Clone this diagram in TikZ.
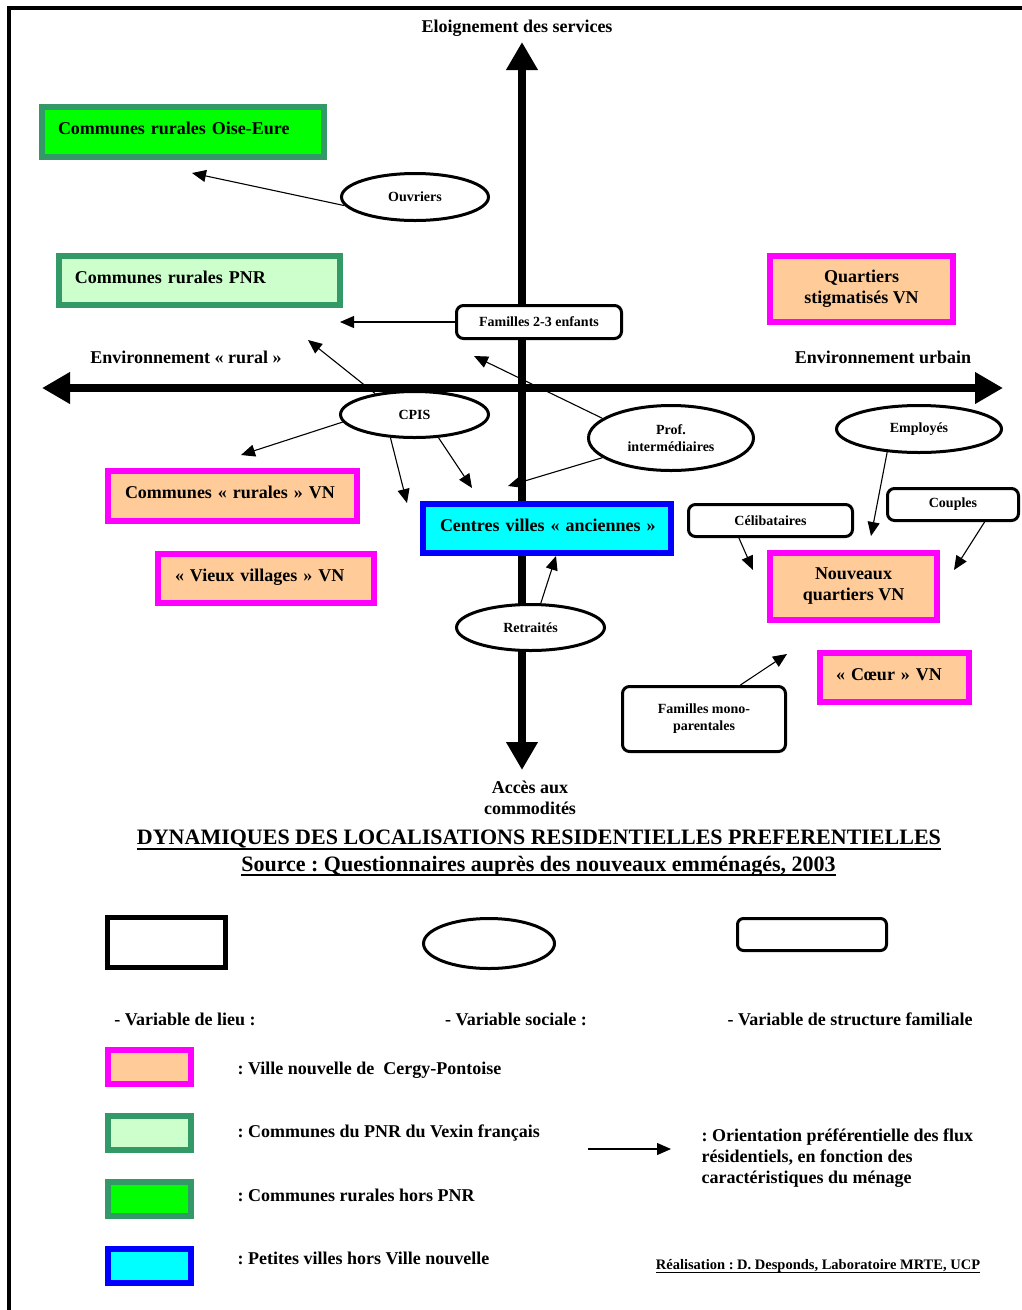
\documentclass[tikz,border=0pt]{standalone}
\usepackage{fontspec}
\setmainfont{Liberation Serif}
\usetikzlibrary{arrows.meta,shapes.geometric,positioning}
\frenchspacing

\definecolor{vnorange}{HTML}{FFCC99}
\definecolor{vnrose}{HTML}{FF00FF}
\definecolor{pnrvert}{HTML}{339966}
\definecolor{pnrclair}{HTML}{CCFFCC}
\definecolor{vertvif}{HTML}{00FF00}
\definecolor{centrebleu}{HTML}{0000FF}
\definecolor{centrecyan}{HTML}{00FFFF}

% soulignement : epaisseur, profondeur, texte
\newcommand{\souligne}[3]{\setbox0=\hbox{#3}\leavevmode\rlap{\rule[-#2]{\wd0}{#1}}\box0}

\begin{document}
\begin{tikzpicture}[x=1pt,y=-1pt,line width=1.1pt,
  >={Triangle[length=14pt,width=12pt]},
  font=\fontsize{18}{21}\selectfont\bfseries,
  lieu/.style={draw,line width=6pt,inner sep=0pt},
  vn/.style={lieu,draw=vnrose,fill=vnorange},
  pnr/.style={lieu,draw=pnrvert,fill=pnrclair},
  horspnr/.style={lieu,draw=pnrvert,fill=vertvif},
  centre/.style={lieu,draw=centrebleu,fill=centrecyan},
  retrait/.style={align=left,inner xsep=0pt,text height=12pt,text depth=7pt,
    execute at begin node={\noindent\hspace*{#1}}},
  social/.style={ellipse,draw,line width=3pt,fill=white,inner sep=0pt,
    font=\fontsize{14}{17}\selectfont\bfseries},
  famille/.style={draw,rounded corners=7pt,line width=3pt,fill=white,inner sep=0pt,
    font=\fontsize{14}{17}\selectfont\bfseries},
  axe/.style={line width=8pt,>={Triangle[length=28pt,width=30pt]},<->},
  flux/.style={->,line width=1.1pt}]

  \useasboundingbox (0,0) rectangle (1022,1310);

  % cadre
  \draw[line width=4pt] (9,1310) -- (9,8) -- (1022,8);

  % axes
  \coordinate (bas) at (522,770);
  \coordinate (haut) at (522,42);
  \coordinate (gauche) at (42,388);
  \coordinate (droite) at (1003,388);
  \draw[axe] (bas) -- (haut);
  \draw[axe] (gauche) -- (droite);

  \node (eloign) at (517,28) {Eloignement des services};
  \node (rural) at (186,357) {Environnement « rural »};
  \node (urbain) at (883,357) {Environnement urbain};
  \node[align=center] (acces) at (530,798) {Accès aux\\commodités};

  % variables de lieu
  \node[horspnr,retrait=16pt,text width=282pt,minimum height=50pt] (oise) at (183,132) {Communes rurales Oise-Eure};
  \node[pnr,retrait=16pt,text width=281pt,minimum height=49pt] (pnrbox) at (199.5,280.5) {Communes rurales PNR};
  \node[vn,align=center,minimum width=183pt,minimum height=66pt] (stigm) at (861.5,289) {Quartiers\\stigmatisés VN};
  \node[vn,retrait=17pt,text width=249pt,minimum height=50pt] (crurales) at (232.5,496) {Communes « rurales » VN};
  \node[vn,retrait=17pt,text width=216pt,minimum height=49pt] (vieux) at (266,578.5) {« Vieux villages » VN};
  \node[centre,retrait=17pt,text width=248pt,minimum height=49pt] (centres) at (547,528.5) {Centres villes « anciennes »};
  \node[vn,align=center,minimum width=167pt,minimum height=67pt] (nouveaux) at (853.5,586.5) {Nouveaux\\quartiers VN};
  \node[vn,retrait=16pt,text width=149pt,minimum height=49pt] (coeur) at (894.5,677.5) {« Cœur » VN};

  % structure familiale
  \node[famille,minimum width=165pt,minimum height=33pt] (fam23) at (539,322) {Familles 2-3 enfants};
  \node[famille,minimum width=164pt,minimum height=32pt] (celib) at (770.5,520.5) {Célibataires};
  \node[famille,minimum width=131pt,minimum height=32pt] (couples) at (953,504.5) {Couples};
  \node[famille,align=center,minimum width=163pt,minimum height=65pt] (mono) at (704,719) {Familles mono-\\parentales};

  % variables sociales
  \node[social,minimum width=147pt,minimum height=47pt] (ouvriers) at (415,197) {Ouvriers};
  \node[social,minimum width=148pt,minimum height=46pt] (cpis) at (414.5,414.5) {CPIS};
  \node[social,align=center,minimum width=165pt,minimum height=65pt] (prof) at (671,438) {Prof.\\intermédiaires};
  \node[social,minimum width=165pt,minimum height=47pt] (employes) at (919,429) {Employés};
  \node[social,minimum width=148pt,minimum height=46pt] (retraites) at (530.5,627.5) {Retraités};

  % flux
  \coordinate (pOuv) at (192,173);
  \coordinate (pFam) at (340,322);
  \coordinate (pCpisA) at (308,340);
  \coordinate (pCpisB) at (241,455);
  \coordinate (pCpisC) at (407,503);
  \coordinate (pCpisD) at (472,488);
  \coordinate (pProfA) at (474,356);
  \coordinate (pProfB) at (508,486);
  \coordinate (pEmp) at (871,536);
  \coordinate (pCelib) at (753,570);
  \coordinate (pCoup) at (954,570);
  \coordinate (pRet) at (556,556);
  \coordinate (pMono) at (787,654);

  \draw[flux] (ouvriers.187) -- (pOuv);
  \draw[flux] (fam23.west) -- (pFam);
  \draw[flux] (cpis.152) -- (pCpisA);
  \draw[flux] (cpis.186) -- (pCpisB);
  \draw[flux] (cpis.224) -- (pCpisC);
  \draw[flux] (cpis.316) -- (pCpisD);
  \draw[flux] (prof.164) -- (pProfA);
  \draw[flux] (prof.196) -- (pProfB);
  \draw[flux] (employes.216) -- (pEmp);
  \draw[flux] (celib.209) -- (pCelib);
  \draw[flux] (couples.331) -- (pCoup);
  \draw[flux] (retraites.67) -- (pRet);
  \draw[flux] (mono.43) -- (pMono);

  % titre
  \node[font=\fontsize{22}{26}\selectfont\bfseries] (titre) at (539,840) {\souligne{1.8pt}{5pt}{DYNAMIQUES DES LOCALISATIONS RESIDENTIELLES PREFERENTIELLES}};
  \node[font=\fontsize{22}{26}\selectfont\bfseries] (source) at (538.5,866) {\souligne{1.8pt}{5pt}{Source : Questionnaires auprès des nouveaux emménagés, 2003}};

  % legende
  \node[draw,line width=5pt,minimum width=118pt,minimum height=50pt] (exlieu) at (166.5,942.5) {};
  \node[ellipse,draw,line width=3pt,minimum width=131pt,minimum height=50pt] (exsocial) at (489,943.5) {};
  \node[draw,rounded corners=6pt,line width=3pt,minimum width=149pt,minimum height=32pt] (exfamille) at (812,934.5) {};

  \node (lblieu) at (185,1019) {- Variable de lieu :};
  \node (lbsocial) at (516,1019) {- Variable sociale :};
  \node (lbfamille) at (850,1019) {- Variable de structure familiale};

  \node[vn,minimum width=83pt,minimum height=34pt] (legvn) at (149.5,1067) {};
  \node[pnr,minimum width=83pt,minimum height=34pt] (legpnr) at (149.5,1133) {};
  \node[horspnr,minimum width=83pt,minimum height=34pt] (leghors) at (149.5,1199) {};
  \node[centre,minimum width=83pt,minimum height=34pt] (legcentre) at (149.5,1265.5) {};

  \node[right=43pt of legvn,inner sep=0pt,yshift=-3pt] (txtvn) {: Ville nouvelle de\ \ Cergy-Pontoise};
  \node[right=43pt of legpnr,inner sep=0pt] (txtpnr) {: Communes du PNR du Vexin français};
  \node[right=43pt of leghors,inner sep=0pt,yshift=4pt] (txthors) {: Communes rurales hors PNR};
  \node[right=43pt of legcentre,inner sep=0pt,yshift=7pt] (txtcentre) {: Petites villes hors Ville nouvelle};

  \coordinate (fluxa) at (588,1149);
  \coordinate (fluxb) at (671,1149);
  \draw[flux] (fluxa) -- (fluxb);
  \node[align=left,anchor=west,inner sep=0pt] (txtflux) at (701,1158) {: Orientation préférentielle des flux\\résidentiels, en fonction des\\caractéristiques du ménage};

  \node[font=\fontsize{14.5}{17}\selectfont\bfseries] (realis) at (818,1266) {\souligne{0.9pt}{3pt}{Réalisation : D. Desponds, Laboratoire MRTE, UCP}};
\end{tikzpicture}
\end{document}
